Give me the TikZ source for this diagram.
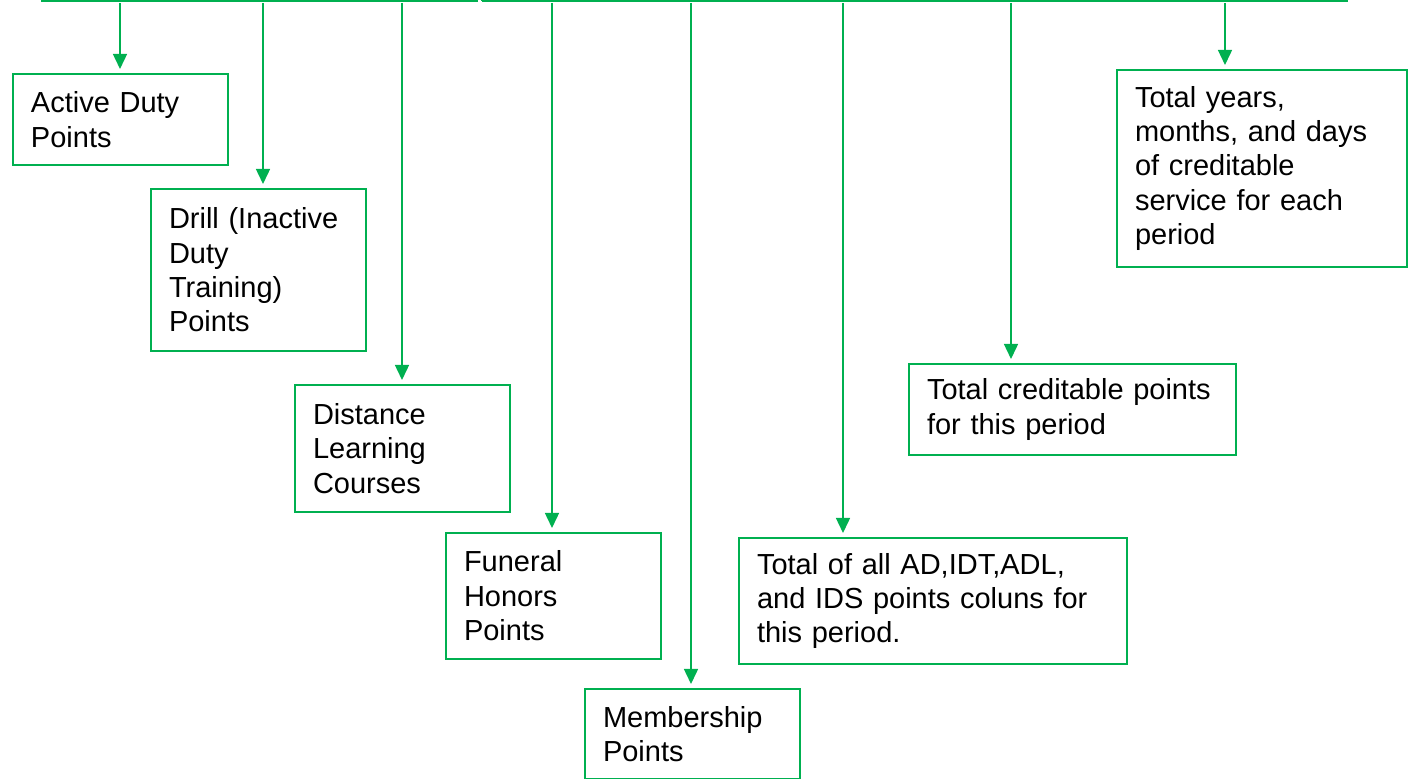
\documentclass[tikz,border=0pt]{standalone}
\usepackage{fontspec}
\setmainfont{Liberation Sans}
\usepackage{tikz}
\usetikzlibrary{arrows.meta,positioning}

\definecolor{ptgreen}{HTML}{00B050}

\begin{document}
\begin{tikzpicture}[x=0.5pt,y=0.5pt,shorten >=2pt,
      >={Triangle[length=7.5pt,width=7pt]},
      gline/.style={draw=ptgreen,line width=0.75pt},
      pbox/.style={draw=ptgreen,line width=1pt,anchor=north west,
        align=left,inner xsep=9pt,inner ysep=0pt,
        font=\fontsize{14.5}{17.2}\selectfont}]

      \useasboundingbox (0,0) rectangle (1408,779);

      % cut off table on top
      \draw[gline,line width=1pt] (42,790) |- (482,778);
      \draw[gline] (482,778) -- (1352,778);
      \foreach \x in {195,197,330,482}
        \draw[gline,line width=1pt] (\x,778) -- (\x,790);
      \foreach \x in {623,761,931,1100}
        \draw[gline,line width=0.4pt] (\x,778) -- (\x,790);

      % columns
      \foreach \n/\x in {1/120,2/263,3/402,4/552,5/691,6/843,7/1011,8/1225}
        \coordinate (c\n) at (\x,776);

      % boxes
      \node[pbox,text width=89.5pt,minimum height=45.5pt] (ad) at (12,706)
        {Active Duty\\Points};
      \node[pbox,text width=89.5pt,minimum height=81pt] (idt) at (150,591)
        {Drill (Inactive\\Duty\\Training)\\Points};
      \node[pbox,text width=89.5pt,minimum height=63.5pt] (dl) at (294,395)
        {Distance\\Learning\\Courses};
      \node[pbox,text width=89.5pt,minimum height=63pt] (fh) at (445,247)
        {Funeral\\Honors\\Points};
      \node[pbox,text width=89.5pt,minimum height=45pt] (mem) at (584,91)
        {Membership\\Points};
      \node[pbox,text width=176pt,minimum height=63pt] (tot) at (738,242)
        {Total of all AD,IDT,ADL,\\and IDS points coluns for\\this period.};
      \node[pbox,text width=145.5pt,minimum height=45.5pt] (cred) at (908,416)
        {Total creditable points\\for this period};
      \node[pbox,text width=127pt,minimum height=98.5pt] (yrs) at (1116,710)
        {Total years,\\months, and days\\of creditable\\service for each\\period};

      \path[color=ptgreen,every edge/.style={draw,->,line width=0.75pt}]
        (c1) edge (c1 |- ad.north)
        (c2) edge (c2 |- idt.north)
        (c3) edge (c3 |- dl.north)
        (c4) edge (c4 |- fh.north)
        (c5) edge (c5 |- mem.north)
        (c6) edge (c6 |- tot.north)
        (c7) edge (c7 |- cred.north)
        (c8) edge (c8 |- yrs.north);
\end{tikzpicture}
\end{document}
